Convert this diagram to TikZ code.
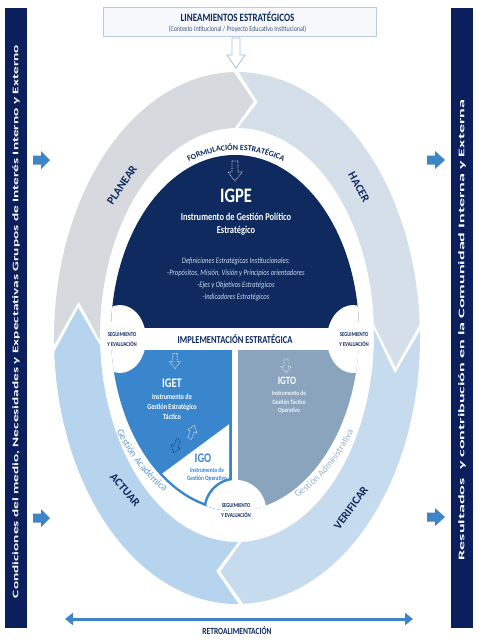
\documentclass[tikz,border=0pt]{standalone}
\usepackage{graphicx}
\usepackage{fontspec}
\setmainfont{Carlito}
\usetikzlibrary{decorations.text,arrows.meta}
\definecolor{navy}{HTML}{0E2A5E}
\definecolor{barnavy}{HTML}{0B1F5C}
\definecolor{igetblue}{HTML}{3A86CC}
\definecolor{igtogrey}{HTML}{8AA4BE}
\definecolor{cplanear}{HTML}{D6DADF}
\definecolor{chacer}{HTML}{D5DFE9}
\definecolor{cverificar}{HTML}{C6DBEE}
\definecolor{cactuar}{HTML}{B7D4EF}
\definecolor{acadtxt}{HTML}{5F9FD8}
\definecolor{admtxt}{HTML}{98B4CE}
\definecolor{itxt}{HTML}{D0DCF0}
\definecolor{boxborder}{HTML}{B9CCE0}
\definecolor{boxfill}{HTML}{F6F8FB}
\definecolor{toparrowc}{HTML}{A4C2E0}
\definecolor{blockblue}{HTML}{3D85C6}
\newcommand{\st}[1]{\scalebox{1}[1.25]{#1}}
\newcommand{\fs}[1]{\fontsize{#1}{#1}\selectfont}
\newcommand{\ringseg}[5]{%
  \fill[#1] plot[domain=#2:#4,samples=60] ({237+183*cos(\x)},{338+266*sin(\x)})
   -- ({237+160*cos(#5)},{336.5+236.5*sin(#5)})
   -- plot[domain=#4:#2,samples=60] ({237+137*cos(\x)},{335+207*sin(\x)})
   -- ({237+160*cos(#3)},{336.5+236.5*sin(#3)}) -- cycle;}
\tikzset{
  pics/dotarrow/.style={code={\draw[#1, densely dotted, line width=0.7pt]
     (-3,-10) -- (3,-10) -- (3,1) -- (7,1) -- (0,10) -- (-7,1) -- (-3,1) -- cycle;}},
  navybold/.style={text=navy, font=\bfseries},
  whitebold/.style={text=white, font=\bfseries},
  ringlbl/.style={text=navy, font=\fs{11.5}\bfseries},
  seglbl/.style={text=navy, font=\fs{4.8}\bfseries},
  blockarrow/.style={fill=blockblue},
}
\begin{document}
\begin{tikzpicture}[x=1pt,y=-1pt, every node/.style={inner sep=0pt, outer sep=0pt}]
\useasboundingbox (0,0) rectangle (480,640);
\fill[white] (0,0) rectangle (480,640);

% side bars
\fill[barnavy] (5,8) rectangle (27,628);
\fill[barnavy] (451,8) rectangle (473,628);
\node[rotate=90, text=white] (condtxt) at (16,321.5) {\resizebox{553pt}{6pt}{\bfseries Condiciones del medio, Necesidades y Expectativas Grupos de Interés Interno y Externo}};
\node[rotate=90, text=white] (restxt) at (462,330) {\resizebox{460pt}{6pt}{\bfseries Resultados\ \ y contribución en la Comunidad Interna y Externa}};

% blue block arrows
\fill[blockarrow] (33,155.5) -- (41,155.5) -- (41,151) -- (50,160) -- (41,169) -- (41,164.5) -- (33,164.5) -- cycle;
\fill[blockarrow] (33,513.5) -- (41,513.5) -- (41,509) -- (50,518) -- (41,527) -- (41,522.5) -- (33,522.5) -- cycle;
\fill[blockarrow] (427,155.5) -- (435,155.5) -- (435,151) -- (445,160) -- (435,169) -- (435,164.5) -- (427,164.5) -- cycle;
\fill[blockarrow] (427,512.5) -- (435,512.5) -- (435,508) -- (445,517) -- (435,526) -- (435,521.5) -- (427,521.5) -- cycle;

% top box
\node[draw=boxborder, fill=boxfill, line width=0.9pt, minimum width=273pt, minimum height=29pt] (linbox) at (239.5,21.5) {};
\node[navybold, font=\fs{9}\bfseries] (lintitle) at (237.5,17) {\st{LINEAMIENTOS ESTRATÉGICOS}};
\node[text=navy!80, font=\fs{6}] (linsub) at (237.5,29) {\st{(Contexto Intitucional / Proyecto Educativo Institucional)}};
\draw[toparrowc, fill=white, line width=0.8pt] (232,38) -- (240,38) -- (240,55) -- (245,55) -- (236,68) -- (227,55) -- (232,55) -- cycle;

% PDCA ring
\ringseg{cplanear}{178.5}{188.5}{269}{276}
\ringseg{chacer}{270.5}{277.5}{357}{367.5}
\ringseg{cverificar}{358.5}{369}{448}{456}
\ringseg{cactuar}{449.5}{457.5}{537}{547}

\node[ringlbl, rotate=56] (planear) at (122,185) {PLANEAR};
\node[ringlbl, rotate=-61] (hacer) at (359,187) {HACER};
\node[ringlbl, rotate=-49] (actuar) at (125,490) {ACTUAR};
\node[ringlbl, rotate=54] (verificar) at (351,508) {VERIFICAR};

% inner content
\begin{scope}
  \clip (235,333) ellipse [x radius=124, y radius=178];
  \fill[navy] (100,140) rectangle (380,328);
  \fill[igetblue] (100,350) rectangle (231.5,545);
  \fill[igtogrey] (238,350) rectangle (380,545);
  \begin{scope}
    \clip (235,333) ellipse [x radius=121.5, y radius=175.5];
    \fill[white] (229,424.3) -- (100,519.6) -- (100,560) -- (229,560) -- cycle;
  \end{scope}
  \begin{scope}
    \clip (100,400) rectangle (231.5,560);
    \fill[igetblue] (236,510) circle [radius=32.5];
  \end{scope}
  \fill[white] (236,510) circle [radius=30];
  \fill[white] (120,339) ellipse [x radius=26, y radius=34];
  \fill[white] (353,339) ellipse [x radius=26, y radius=34];
\end{scope}

% curved labels
\path[decorate, decoration={text along path, text align=center,
   text={|\fs{8}\bfseries\color{navy}|FORMULACIÓN ESTRATÉGICA}}]
   plot[domain=-125:-55, samples=40] ({236+136*cos(\x)},{340+190*sin(\x)});
\path[decorate, decoration={text along path, text align=center,
   text={|\fs{10}\color{acadtxt}|Gestión Académica}}]
   plot[domain=166:98, samples=50] ({235+140*cos(\x)},{333+184*sin(\x)});
\path[decorate, decoration={text along path, text align=center,
   text={|\fs{9.5}\color{admtxt}|Gestión Administrativa}}]
   plot[domain=85:15, samples=50] ({235+140*cos(\x)},{333+184*sin(\x)});

% IGPE
\pic at (235,171) {dotarrow=white};
\node[whitebold, font=\fs{16.5}\bfseries] (igpe) at (236,196) {\st{IGPE}};
\node[whitebold, font=\fs{8.4}\bfseries] (igpe1) at (236,217) {\st{Instrumento de Gestión Político}};
\node[whitebold, font=\fs{8.4}\bfseries] (igpe2) at (236,231) {\st{Estratégico}};
\node[text=itxt, font=\fs{6.6}\itshape] (d1) at (236,261) {\st{Definiciones Estratégicas Institucionales:}};
\node[text=itxt, font=\fs{6.6}\itshape] (d2) at (236,273) {\st{-Propósitos, Misión, Visión y Principios orientadores}};
\node[text=itxt, font=\fs{6.6}\itshape] (d3) at (236,285) {\st{-Ejes y Objetivos Estratégicos}};
\node[text=itxt, font=\fs{6.6}\itshape] (d4) at (236,297) {\st{-Indicadores Estratégicos}};

\node[navybold, font=\fs{8.5}\bfseries] (impl) at (235,339) {\st{IMPLEMENTACIÓN ESTRATÉGICA}};

% seguimiento labels
\node[seglbl] (segL1) at (122,335) {\st{SEGUIMIENTO}};
\node[seglbl] (segL2) at (122,344) {\st{Y EVALUACIÓN}};
\node[seglbl] (segR1) at (354,335) {\st{SEGUIMIENTO}};
\node[seglbl] (segR2) at (354,344) {\st{Y EVALUACIÓN}};
\node[seglbl] (segB1) at (236,506) {\st{SEGUIMIENTO}};
\node[seglbl] (segB2) at (236,515) {\st{Y EVALUACIÓN}};

% IGET
\pic[scale=0.75] at (175,361) {dotarrow=white};
\node[whitebold, font=\fs{10.5}\bfseries] (iget) at (172,383) {\st{IGET}};
\node[whitebold, font=\fs{6.2}\bfseries] (iget1) at (172,397) {\st{Instrumento de}};
\node[whitebold, font=\fs{6.2}\bfseries] (iget2) at (172,407) {\st{Gestión Estratégico}};
\node[whitebold, font=\fs{6.2}\bfseries] (iget3) at (172,417) {\st{Táctico}};
\pic[rotate=-20, scale=0.7] at (176,446) {dotarrow=navy};
\pic[rotate=160, scale=0.7] at (192,432) {dotarrow=white};

% IGO
\node[text=igetblue, font=\fs{10.5}\bfseries] (igo) at (203,458) {\st{IGO}};
\node[text=igetblue, font=\fs{5.3}\bfseries] (igo1) at (207,470) {\st{Instrumento de}};
\node[text=igetblue, font=\fs{5.3}\bfseries] (igo2) at (207,479) {\st{Gestión Operativo}};

% IGTO
\pic[scale=0.7] at (286,366) {dotarrow=white};
\node[whitebold, font=\fs{9}\bfseries] (igto) at (287,381) {\st{IGTO}};
\node[text=white!90!igtogrey, font=\fs{5.3}\bfseries] (igto1) at (289,393) {\st{Instrumento de}};
\node[text=white!90!igtogrey, font=\fs{5.3}\bfseries] (igto2) at (289,402) {\st{Gestión Táctico}};
\node[text=white!90!igtogrey, font=\fs{5.3}\bfseries] (igto3) at (289,411) {\st{Operativo}};

% feedback arrow
\coordinate (retroL) at (65,619);
\coordinate (retroR) at (413,619);
\draw[blockblue, line width=3pt, {Triangle[length=8pt,width=12pt]}-{Triangle[length=8pt,width=12pt]}] (retroL) -- (retroR);
\node[navybold, font=\fs{7.5}\bfseries] (retro) at (237,631) {\st{RETROALIMENTACIÓN}};
\end{tikzpicture}
\end{document}
